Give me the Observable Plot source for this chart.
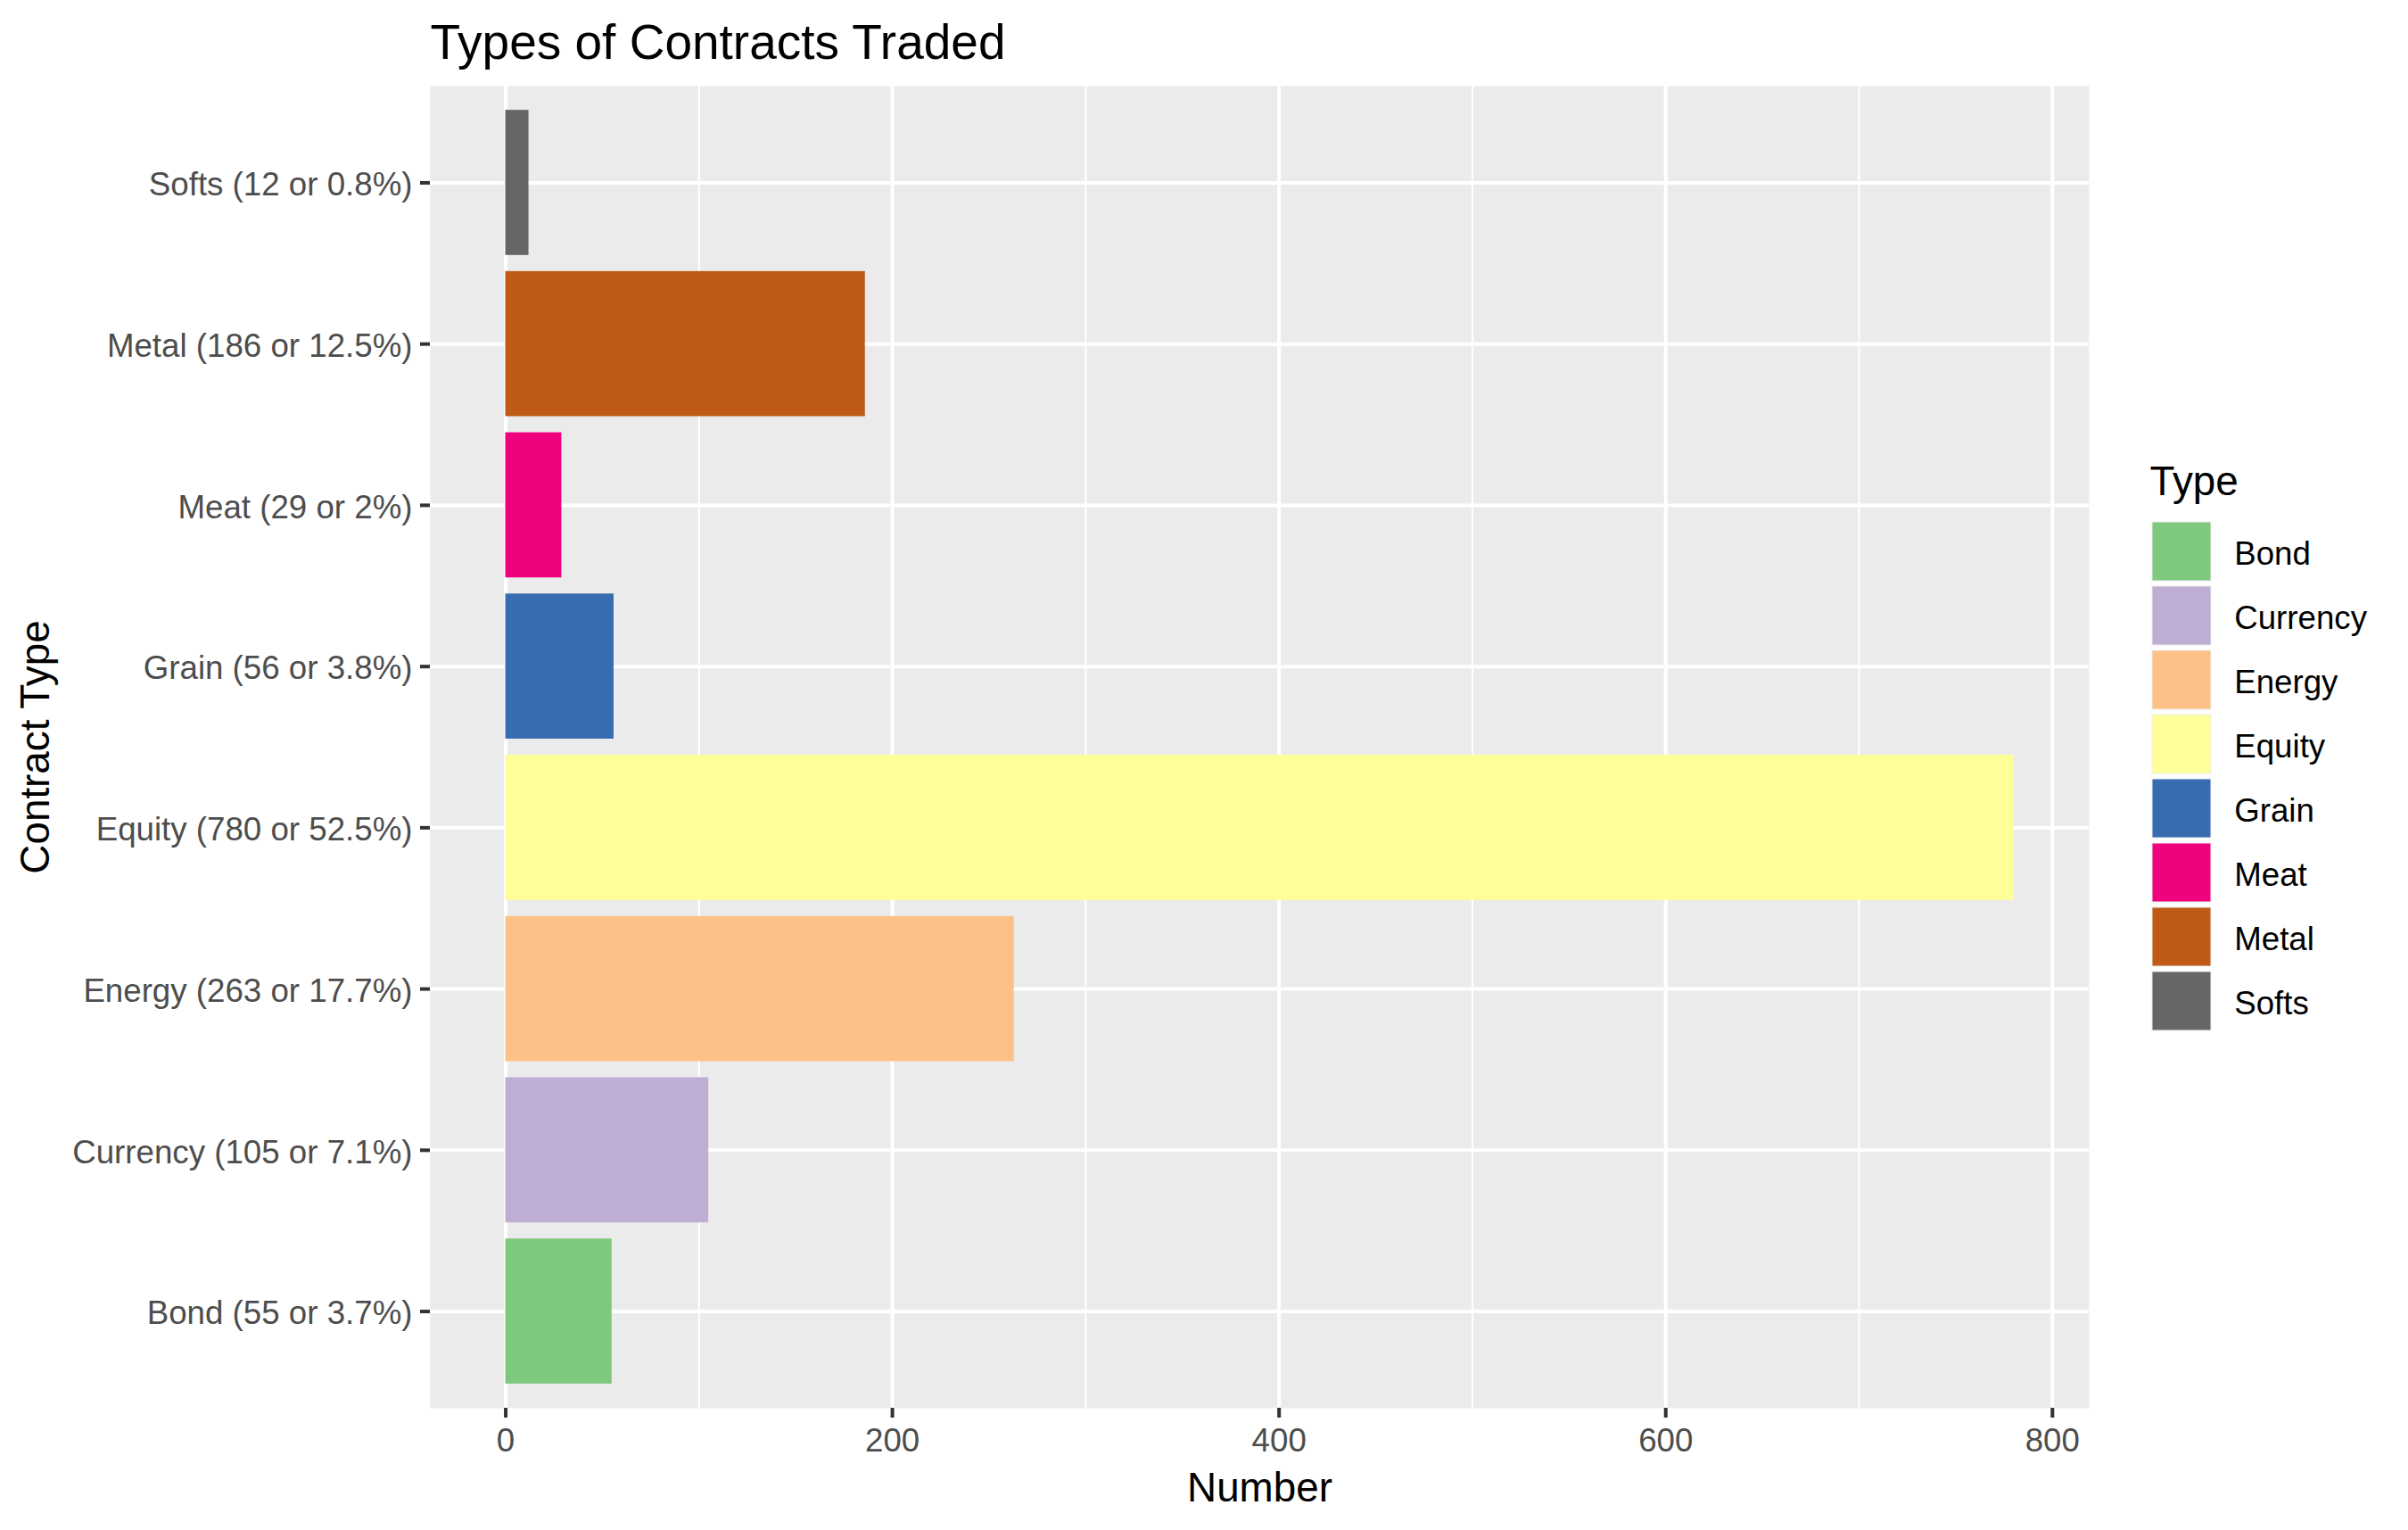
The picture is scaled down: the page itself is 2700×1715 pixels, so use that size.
<!DOCTYPE html>
<html><head><meta charset="utf-8">
<script src="https://cdn.jsdelivr.net/npm/d3@7"></script>
<script src="https://cdn.jsdelivr.net/npm/@observablehq/plot@0.6"></script>
<style>
html,body{margin:0;padding:0;background:#fff;}
#wrap{position:relative;width:2700px;height:1715px;overflow:hidden;font-family:"Liberation Sans",Arial,sans-serif;background:#fff;}
#wrap svg{display:block}
#main{position:absolute;left:0;top:0}
#legend{position:absolute;left:2410px;top:500px;}
</style></head><body>
<div id="wrap"><div id="main"></div><div id="legend"></div></div>
<script>
const types = ["Bond","Currency","Energy","Equity","Grain","Meat","Metal","Softs"];
const counts = [55,105,263,780,56,29,186,12];
const percents = ["3.7%","7.1%","17.7%","52.5%","3.8%","2%","12.5%","0.8%"];
const palette = ["#7FC97F","#BEAED4","#FDC086","#FFFF99","#386CB0","#F0027F","#BF5B17","#666666"];
const xTicks = [0,200,400,600,800];
const xMinorTicks = [100,300,500,700];
const chartTitle = "Types of Contracts Traded";
const xTitle = "Number";
const yTitle = "Contract Type";
const legendTitle = "Type";

const font = '"Liberation Sans",Arial,sans-serif';
const data = types.map((t,i)=>({type:t, count:counts[i], label:`${t} (${counts[i]} or ${percents[i]})`}));
const yDomain = data.map(d=>d.label).reverse();
const xMax = d3.max(counts);

const main = Plot.plot({
  width:2700, height:1715,
  marginLeft:482, marginRight:358, marginTop:96, marginBottom:137,
  style:{fontFamily:font, background:"transparent", overflow:"visible"},
  x:{domain:[-0.05*xMax, 1.05*xMax], label:null},
  y:{domain:yDomain, paddingInner:0.1, paddingOuter:0.15, round:false, label:null},
  color:{domain:types, range:palette},
  marks:[
    Plot.frame({fill:"#EBEBEB", stroke:"none"}),
    Plot.gridX({ticks:xMinorTicks, stroke:"white", strokeOpacity:1, strokeWidth:2}),
    Plot.gridX({ticks:xTicks, stroke:"white", strokeOpacity:1, strokeWidth:4}),
    Plot.gridY({stroke:"white", strokeOpacity:1, strokeWidth:4}),
    Plot.barX(data, {x:"count", y:"label", fill:"type"}),
    Plot.axisX({ticks:xTicks, tickSize:11, tickPadding:11.6, fontSize:36.7, fill:"#4D4D4D", stroke:"#333333", strokeWidth:4, label:null}),
    Plot.axisY({tickSize:11, tickFormat:()=>"", stroke:"#333333", strokeWidth:4, label:null}),
    Plot.axisY({tickSize:0, tickPadding:20, dy:2.6, fontSize:36.7, fill:"#4D4D4D", label:null}),
    Plot.text([chartTitle], {text:d=>d, frameAnchor:"top-left", lineAnchor:"middle", textAnchor:"start", dy:-48.6, fontSize:55, fill:"black"}),
    Plot.text([xTitle], {text:d=>d, frameAnchor:"bottom", lineAnchor:"middle", textAnchor:"middle", dy:90, fontSize:45.8, fill:"black"}),
    Plot.text([yTitle], {text:d=>d, frameAnchor:"left", lineAnchor:"middle", textAnchor:"middle", rotate:-90, dx:-441.7, fontSize:45.8, fill:"black"})
  ]
});
document.getElementById("main").appendChild(main);

const legend = Plot.plot({
  width:290, height:700, marginLeft:0, marginRight:0, marginTop:82, marginBottom:42,
  style:{fontFamily:font, background:"transparent", overflow:"visible"},
  x:{type:"band", domain:["key"], range:[0,72], padding:0, axis:null},
  y:{type:"band", domain:types, padding:0, round:false, axis:null},
  color:{domain:types, range:palette},
  marks:[
    Plot.cell(types, {x:()=>"key", y:d=>d, fill:d=>d, inset:3, stroke:"#EEEEEE", strokeWidth:1}),
    Plot.text(types, {x:()=>"key", y:d=>d, text:d=>d, lineAnchor:"middle", textAnchor:"start", dx:58.7, dy:2.7, fontSize:36.7, fill:"black"}),
    Plot.text([legendTitle], {text:d=>d, frameAnchor:"top-left", lineAnchor:"middle", textAnchor:"start", dy:-41.7, fontSize:45.8, fill:"black"})
  ]
});
document.getElementById("legend").appendChild(legend);
</script>
</body></html>
